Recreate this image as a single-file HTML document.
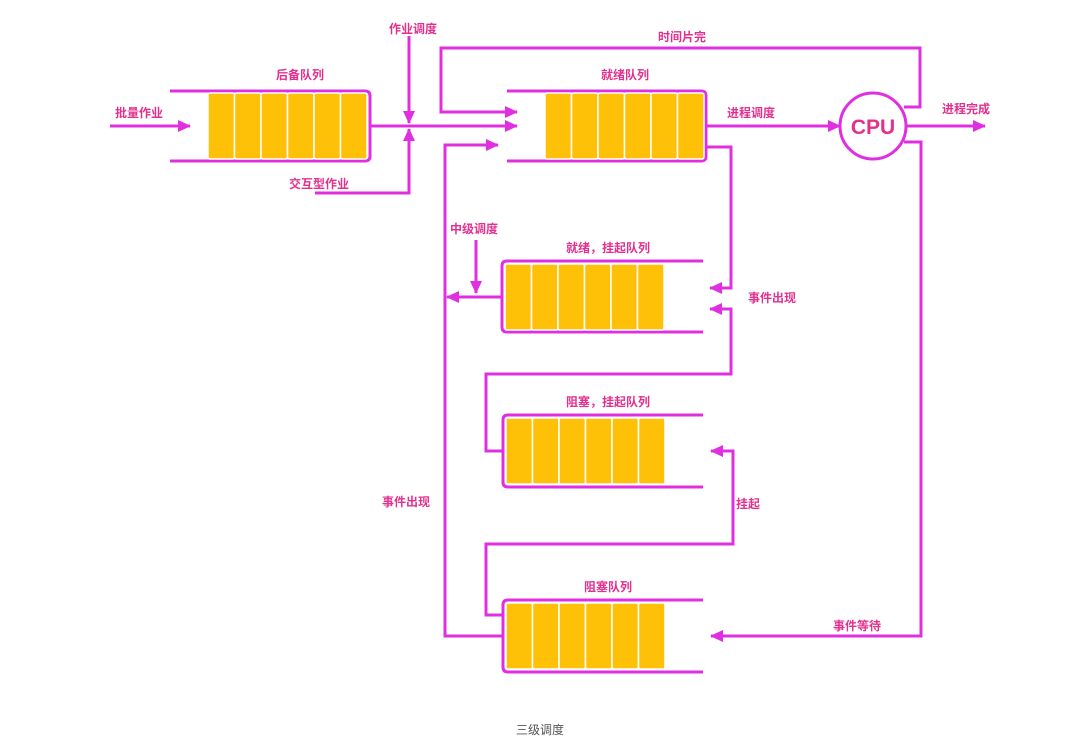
<!DOCTYPE html>
<html><head><meta charset="utf-8"><style>
html,body{margin:0;padding:0;background:#fff;}
svg{display:block;}
text{font-family:"Liberation Sans","Noto Sans CJK SC",sans-serif;font-size:12px;fill:#e2308e;text-anchor:middle;font-weight:bold;}
.l{fill:none;stroke:#e02fe0;stroke-width:3;}
.c{fill:#ffc107;stroke:#fff;stroke-width:1.5;}
</style></head><body>
<svg width="1080" height="755" viewBox="0 0 1080 755" xmlns="http://www.w3.org/2000/svg">
<defs>
<marker id="a" markerUnits="userSpaceOnUse" markerWidth="14" markerHeight="12" refX="12" refY="6" orient="auto">
<polygon points="0,0 13,6 0,12" fill="#e02fe0"/></marker>
</defs>
<!-- queues -->
<g>
<path class="l" d="M170,91 H365 Q370,91 370,96 V156 Q370,161 365,161 H170"/>
<rect class="c" x="208" y="93" width="26.5" height="66" rx="2"/><rect class="c" x="234.5" y="93" width="26.5" height="66" rx="2"/><rect class="c" x="261" y="93" width="26.5" height="66" rx="2"/><rect class="c" x="287.5" y="93" width="26.5" height="66" rx="2"/><rect class="c" x="314" y="93" width="26.5" height="66" rx="2"/><rect class="c" x="340.5" y="93" width="26.5" height="66" rx="2"/>
</g>
<g>
<path class="l" d="M507,91 H701 Q706,91 706,96 V156 Q706,161 701,161 H507"/>
<rect class="c" x="545" y="93" width="26.5" height="66" rx="2"/><rect class="c" x="571.5" y="93" width="26.5" height="66" rx="2"/><rect class="c" x="598" y="93" width="26.5" height="66" rx="2"/><rect class="c" x="624.5" y="93" width="26.5" height="66" rx="2"/><rect class="c" x="651" y="93" width="26.5" height="66" rx="2"/><rect class="c" x="677.5" y="93" width="26.5" height="66" rx="2"/>
</g>
<g>
<path class="l" d="M703,261 H507 Q502,261 502,266 V327 Q502,332 507,332 H703"/>
<rect class="c" x="505" y="264" width="26.5" height="66" rx="2"/><rect class="c" x="531.5" y="264" width="26.5" height="66" rx="2"/><rect class="c" x="558" y="264" width="26.5" height="66" rx="2"/><rect class="c" x="584.5" y="264" width="26.5" height="66" rx="2"/><rect class="c" x="611" y="264" width="26.5" height="66" rx="2"/><rect class="c" x="637.5" y="264" width="26.5" height="66" rx="2"/>
</g>
<g>
<path class="l" d="M703,415 H508 Q503,415 503,420 V482 Q503,487 508,487 H703"/>
<rect class="c" x="506" y="418" width="26.5" height="66" rx="2"/><rect class="c" x="532.5" y="418" width="26.5" height="66" rx="2"/><rect class="c" x="559" y="418" width="26.5" height="66" rx="2"/><rect class="c" x="585.5" y="418" width="26.5" height="66" rx="2"/><rect class="c" x="612" y="418" width="26.5" height="66" rx="2"/><rect class="c" x="638.5" y="418" width="26.5" height="66" rx="2"/>
</g>
<g>
<path class="l" d="M703,600 H508 Q503,600 503,605 V667 Q503,672 508,672 H703"/>
<rect class="c" x="506" y="603" width="26.5" height="66" rx="2"/><rect class="c" x="532.5" y="603" width="26.5" height="66" rx="2"/><rect class="c" x="559" y="603" width="26.5" height="66" rx="2"/><rect class="c" x="585.5" y="603" width="26.5" height="66" rx="2"/><rect class="c" x="612" y="603" width="26.5" height="66" rx="2"/><rect class="c" x="638.5" y="603" width="26.5" height="66" rx="2"/>
</g>
<!-- CPU -->
<circle cx="873" cy="126" r="33" fill="#fff" stroke="#e02fe0" stroke-width="3"/>
<text x="873" y="134" style="font-size:21px;">CPU</text>
<!-- connectors -->
<path class="l" d="M110,126 H190" marker-end="url(#a)"/>
<path class="l" d="M370,126 H517" marker-end="url(#a)"/>
<path class="l" d="M409,36 V123" marker-end="url(#a)"/>
<path class="l" d="M315,193 H409 V129" marker-end="url(#a)"/>
<path class="l" d="M904,107 H920 V48 H441 V112 H517" marker-end="url(#a)"/>
<path class="l" d="M502,636 H445 V145 H498" marker-end="url(#a)"/>
<path class="l" d="M502,297 H447" marker-end="url(#a)"/>
<path class="l" d="M476,240 V293" marker-end="url(#a)"/>
<path class="l" d="M706,126 H840" marker-end="url(#a)"/>
<path class="l" d="M906,126 H985" marker-end="url(#a)"/>
<path class="l" d="M904,142 H921 V636 H711" marker-end="url(#a)"/>
<path class="l" d="M706,147 H731 V288 H710" marker-end="url(#a)"/>
<path class="l" d="M503,451 H486 V374 H731 V309 H710" marker-end="url(#a)"/>
<path class="l" d="M503,615 H486 V544 H733 V451 H711" marker-end="url(#a)"/>
<!-- labels -->
<text x="300" y="79">后备队列</text>
<text x="625" y="79">就绪队列</text>
<text x="682" y="41">时间片完</text>
<text x="413" y="33">作业调度</text>
<text x="139" y="117">批量作业</text>
<text x="319" y="188">交互型作业</text>
<text x="751" y="117">进程调度</text>
<text x="966" y="113">进程完成</text>
<text x="474" y="233">中级调度</text>
<text x="608" y="252">就绪，挂起队列</text>
<text x="772" y="302">事件出现</text>
<text x="608" y="406">阻塞，挂起队列</text>
<text x="748" y="508">挂起</text>
<text x="406" y="506">事件出现</text>
<text x="608" y="591">阻塞队列</text>
<text x="857" y="630">事件等待</text>
<text x="540" y="734" style="fill:#555;font-weight:normal;">三级调度</text>
</svg>
</body></html>
